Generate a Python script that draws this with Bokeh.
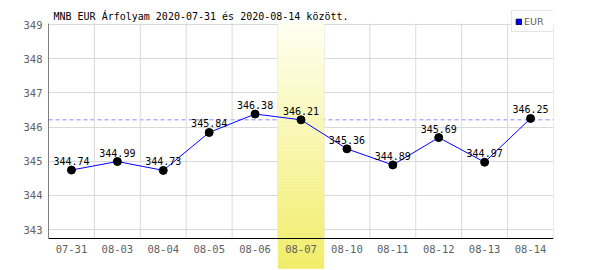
from bokeh.plotting import figure
from bokeh.models import ColumnDataSource, Range1d, FixedTicker, Legend, LegendItem
from bokeh.core.properties import value
from bokeh.embed import file_html
from bokeh.resources import INLINE

# ---- data ----
dates = ["07-31", "08-03", "08-04", "08-05", "08-06", "08-07",
         "08-10", "08-11", "08-12", "08-13", "08-14"]
eur = [344.74, 344.99, 344.73, 345.84, 346.38, 346.21,
       345.36, 344.89, 345.69, 344.97, 346.25]
highlight = "08-07"
y_ticks = [343, 344, 345, 346, 347, 348, 349]
title_text = "MNB EUR Árfolyam 2020-07-31 és 2020-08-14 között."
series_name = "EUR"

# ---- layout helpers ----
MONO = value("DejaVu Sans Mono")
k = 205 / 6.0                      # pixels per forint
y_top = 349 + 24 / k
y_bot = y_top - 270 / k
axis_y = 343 - 9 / k
grid_top = 349 + 1 / k
band_top = 349 + 2 / k
band_bot = 343 - 39 / k
n = len(dates)

xs = [i + 0.5 for i in range(n)]
labels = ["%.2f" % v for v in eur]
src = ColumnDataSource(dict(x=xs, y=eur, lab=labels, d=dates))

p = figure(width=600, height=270, output_backend="svg", toolbar_location=None,
           x_range=Range1d(0, n), y_range=Range1d(y_bot, y_top),
           x_axis_location=None, min_border_left=48, min_border_right=47,
           min_border_top=0, min_border_bottom=0)
p.outline_line_color = None
p.background_fill_color = "white"
p.border_fill_color = "white"
p.xgrid.visible = False

# y axis
ax = p.yaxis[0]
ax.ticker = FixedTicker(ticks=y_ticks)
ax.axis_line_color = None
ax.major_tick_line_color = None
ax.minor_tick_line_color = None
ax.major_tick_out = 0
ax.major_label_standoff = 6
ax.major_label_text_font = "DejaVu Sans Mono"
ax.major_label_text_font_size = "10.5px"
ax.major_label_text_color = "#606060"
p.ygrid.ticker = FixedTicker(ticks=y_ticks)
p.ygrid.grid_line_color = "#d9d9d9"
p.ygrid.grid_line_width = 1

# reference dashed line (value of highlighted day)
ref_val = eur[dates.index(highlight)]
p.segment(x0=[0], x1=[n], y0=[ref_val], y1=[ref_val],
          line_color="#8888ff", line_width=1, line_dash="4 3")

# vertical grid lines at category boundaries
bx = list(range(1, n + 1))
p.segment(x0=bx, x1=bx, y0=[axis_y] * len(bx), y1=[grid_top] * len(bx),
          line_color="#d9d9d9", line_width=1)

# highlighted day band with vertical gradient
hi = dates.index(highlight)
steps = 62
c_top = (255, 255, 242)
c_bot = (241, 237, 104)
lefts, rights, tops, bots, cols = [], [], [], [], []
for s in range(steps):
    t0 = band_top - (band_top - band_bot) * s / steps
    t1 = band_top - (band_top - band_bot) * (s + 1) / steps
    f = (s + 0.5) / steps
    c = tuple(int(round(c_top[j] + (c_bot[j] - c_top[j]) * f)) for j in range(3))
    lefts.append(hi); rights.append(hi + 1); tops.append(t0); bots.append(t1)
    cols.append("#%02x%02x%02x" % c)
p.quad(left=lefts, right=rights, top=tops, bottom=bots, fill_color=cols,
       line_color=cols, line_width=0.5)

# axes lines
p.segment(x0=[0], x1=[n], y0=[axis_y], y1=[axis_y], line_color="black", line_width=1)
p.segment(x0=[0], x1=[0], y0=[axis_y], y1=[grid_top], line_color="black", line_width=1)

# data
p.line("x", "y", source=src, line_color="#0000ff", line_width=1)
p.scatter("x", "y", source=src, size=8, fill_color="black", line_color="black")
p.text("x", "y", text="lab", source=src, y_offset=-9, text_align="center",
       text_baseline="alphabetic", text_font=MONO, text_font_size="10px",
       text_color="black")

# x tick labels
p.text(x=xs, y=[343 - 19 / k] * n, text=dates, text_align="center",
       text_baseline="middle", text_font=MONO, text_font_size="10.5px",
       text_color="#606060")

# title
p.text(x=[0], y=[349 + 5 / k], text=[title_text], x_offset=5, y_offset=-3,
       text_align="left", text_baseline="alphabetic", text_font=MONO,
       text_font_size="10px", text_color="black")

# legend (blue square); the swatch renderer sits outside the visible range
dummy = p.quad(left=[-10], right=[-9], top=[y_bot - 5], bottom=[y_bot - 6],
               fill_color="#0000ff", line_color="#000066")
leg = Legend(items=[LegendItem(label=series_name, renderers=[dummy])],
             location="top_right")
leg.margin = 0
leg.padding = 3
leg.spacing = 0
leg.glyph_width = 7
leg.glyph_height = 7
leg.label_standoff = 2
leg.label_height = 14
leg.label_width = 27
leg.label_text_font = "DejaVu Sans"
leg.label_text_font_size = "9.5px"
leg.label_text_color = "#606060"
leg.border_line_color = "#cccccc"
leg.border_line_width = 1
leg.background_fill_color = "white"
leg.background_fill_alpha = 1.0
leg.location = (463, 238)
p.add_layout(leg, "center")

open("out.html", "w").write(file_html(p, INLINE))
